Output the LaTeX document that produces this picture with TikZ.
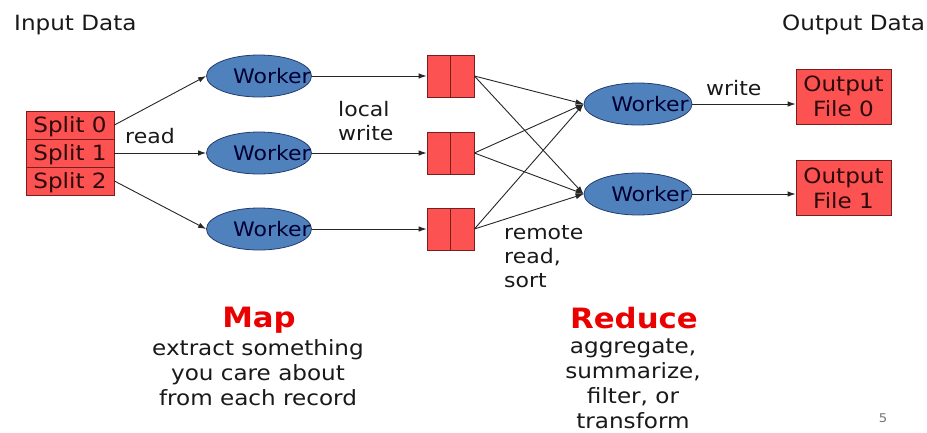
\documentclass[tikz,border=0pt]{standalone}
\usepackage{fontspec}
\setmainfont{DejaVu Sans}[FakeStretch=1.1]
\usetikzlibrary{arrows.meta,shapes.geometric}

\definecolor{boxred}{RGB}{252,82,82}
\definecolor{boxedge}{RGB}{120,30,30}
\definecolor{wblue}{RGB}{79,129,189}
\definecolor{wedge}{RGB}{35,60,110}
\definecolor{inktext}{RGB}{25,25,25}
\definecolor{boxtext}{RGB}{45,10,10}
\definecolor{headred}{RGB}{235,0,0}

\tikzset{
  base/.style={font=\fontsize{21pt}{25pt}\selectfont, text=inktext, inner sep=0pt},
  split/.style={base, draw=boxedge, fill=boxred, text=boxtext, line width=0.8pt,
    minimum width=88pt, minimum height=28pt, text height=15pt, text depth=0pt},
  worker/.style={ellipse, draw=wedge, fill=wblue, line width=0.8pt, inner sep=0pt,
    minimum width=105pt, minimum height=42pt},
  wlabel/.style={base, font=\fontsize{20pt}{24pt}\selectfont, text=black!80!blue,
    text height=15pt, text depth=0pt},
  buffer/.style={draw=boxedge, fill=boxred, line width=0.8pt, inner sep=0pt,
    minimum width=47pt, minimum height=42pt},
  outbox/.style={base, draw=boxedge, fill=boxred, text=boxtext, line width=0.8pt,
    minimum width=95pt, minimum height=55pt, align=center},
  lbl/.style={base, font=\fontsize{20pt}{24pt}\selectfont, align=left},
  head/.style={base, font=\fontsize{28pt}{30pt}\selectfont\bfseries, text=headred},
  body/.style={base, align=center},
  arr/.style={line width=0.9pt, draw=black!85, -{Latex[length=8pt,width=5.5pt]}},
}

\begin{document}
\begin{tikzpicture}[x=1pt,y=-1pt]
  \useasboundingbox (0,0) rectangle (927,432);

  % headings
  \node[base, anchor=base west] (inlbl) at (14,30) {Input Data};
  \node[base, anchor=base west] (outlbl) at (782,30) {Output Data};

  % input splits
  \node[split] (s0) at (70,125) {Split 0};
  \node[split] (s1) at (70,153) {Split 1};
  \node[split] (s2) at (70,181) {Split 2};

  % map workers
  \foreach \i/\y in {0/76,1/153,2/229} {
    \node[worker] (m\i) at (259,\y) {};
    \node[wlabel] (mt\i) at (272,\y) {Worker};
  }

  % intermediate files
  \foreach \i/\y in {0/76,1/153,2/229} {
    \node[buffer] (b\i) at (450.5,\y) {};
    \draw[draw=boxedge, line width=0.8pt] (b\i.north) -- (b\i.south);
  }

  % reduce workers
  \foreach \i/\y in {0/104,1/194} {
    \node[worker, minimum width=108pt] (r\i) at (638,\y) {};
    \node[wlabel] (rt\i) at (650,\y) {Worker};
  }

  % output files
  \node[outbox] (o0) at (843.5,96.5) {Output\\File 0};
  \node[outbox] (o1) at (843.5,188) {Output\\File 1};

  % read
  \draw[arr] (s0.east) -- (m0.west);
  \draw[arr] (s1.east) -- (m1.west);
  \draw[arr] (s2.east) -- (m2.west);

  % local write
  \foreach \i in {0,1,2} \draw[arr] (m\i.east) -- (b\i.west);

  % remote read, sort
  \foreach \i in {0,1,2} {
    \draw[arr] (b\i.east) -- (r0.west);
    \draw[arr] (b\i.east) -- (r1.west);
  }

  % write
  \draw[arr] (r0.east) -- (r0.east -| o0.west);
  \draw[arr] (r1.east) -- (r1.east -| o1.west);

  % edge labels (multi-line nodes sit on the baseline of their last line)
  \node[lbl, anchor=base west] (lread) at (125,143) {read};
  \node[lbl, anchor=base west] (llocal) at (338,140) {local\\write};
  \node[lbl, anchor=base west] (lremote) at (504,287) {remote\\read,\\sort};
  \node[lbl, anchor=base west] (lwrite) at (706,95) {write};

  % phase captions
  \node[head, anchor=base] (hmap) at (259,327) {Map};
  \node[body, anchor=base] (tmap) at (258,405)
    {extract something\\you care about\\from each record};
  \node[head, anchor=base] (hred) at (634,328) {Reduce};
  \node[body, anchor=base] (tred) at (633,428)
    {aggregate,\\summarize,\\filter, or\\transform};

  % page number
  \node[base, font=\fontsize{12pt}{14pt}\selectfont, text=black!55, anchor=base]
    (pnum) at (883,422) {5};
\end{tikzpicture}
\end{document}
